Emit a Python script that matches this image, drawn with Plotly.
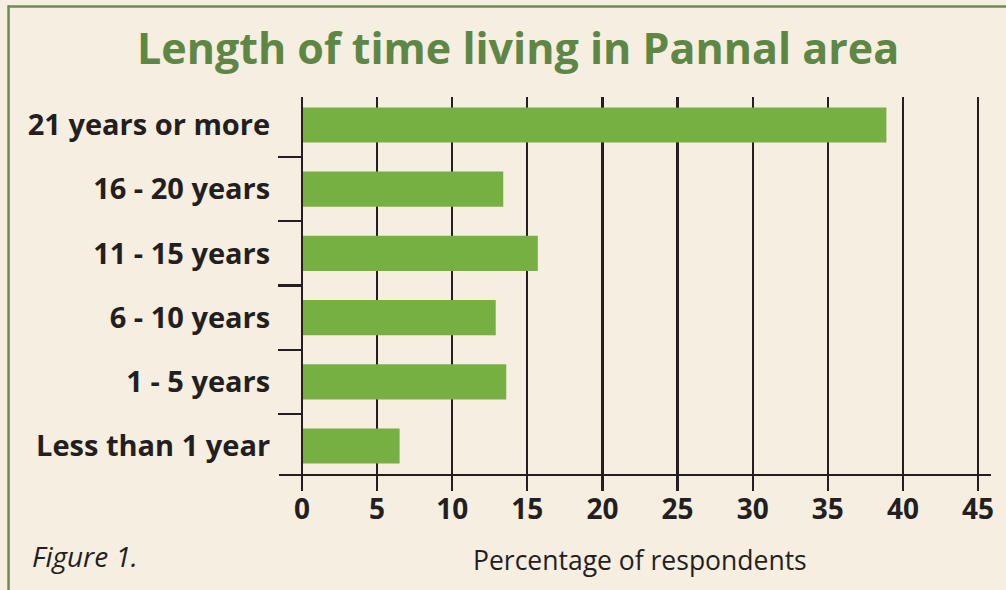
import plotly.graph_objects as go

categories = ["Less than 1 year", "1 - 5 years", "6 - 10 years",
              "11 - 15 years", "16 - 20 years", "21 years or more"]
values = [6.5, 13.6, 12.9, 15.7, 13.4, 38.9]
x_ticks = [0, 5, 10, 15, 20, 25, 30, 35, 40, 45]

W, H = 1006, 590
L, R, T, B = 279, 993, 97, 474  # plot area in pixels
BG = "#f6eee0"
BAR = "#76b043"
GREEN = "#5e8645"
DARK = "#231f20"
FONT = "Open Sans"

x0_px, x45_px = 302, 980
upp = 45 / (x45_px - x0_px)
x_range = [(L - x0_px) * upp, (R - x0_px) * upp]

def px_x(px):
    return (px - L) / (R - L)

def px_y(py):
    return (B - py) / (B - T)

fig = go.Figure(go.Bar(
    y=categories, x=values, orientation="h",
    marker=dict(color=BAR, line=dict(width=0)),
))

fig.update_layout(
    width=W, height=H,
    margin=dict(l=L, r=W - R, t=T, b=H - B),
    paper_bgcolor=BG, plot_bgcolor=BG,
    bargap=0.455,
    showlegend=False,
    font=dict(family=FONT, color=DARK),
)

fig.update_xaxes(
    range=x_range, tickvals=x_ticks, ticktext=[str(v) for v in x_ticks],
    showgrid=True, gridcolor=DARK, gridwidth=2.3,
    zeroline=False,
    showline=True, linecolor=DARK, linewidth=2.3,
    ticks="outside", ticklen=15, tickwidth=2.3, tickcolor=DARK,
    ticklabelstandoff=-6,
    tickfont=dict(family=FONT, size=28, color=DARK, weight="bold"),
    fixedrange=True,
)

fig.update_yaxes(
    type="category", categoryorder="array", categoryarray=categories,
    range=[-0.434, 5.434],
    anchor="free", position=px_x(x0_px),
    showgrid=False, zeroline=False,
    showline=True, linecolor=DARK, linewidth=2.3,
    ticks="outside", tickson="boundaries", ticklen=23, tickwidth=2.3, tickcolor=DARK,
    ticklabelstandoff=25,
    tickfont=dict(family=FONT, size=29, color=DARK, weight="bold"),
    fixedrange=True,
)

# title
fig.add_annotation(
    text="Length of time living in Pannal area",
    xref="paper", yref="paper", x=px_x(519), y=px_y(48),
    xanchor="center", yanchor="middle", showarrow=False,
    font=dict(family=FONT, size=43, color=GREEN, weight="bold"),
)
# axis title
fig.add_annotation(
    text="Percentage of respondents",
    xref="paper", yref="paper", x=px_x(641), y=px_y(560),
    xanchor="center", yanchor="middle", showarrow=False,
    font=dict(family=FONT, size=26.5, color=DARK),
)
# figure caption
fig.add_annotation(
    text="<i>Figure 1.</i>",
    xref="paper", yref="paper", x=px_x(29), y=px_y(556),
    xanchor="left", yanchor="middle", showarrow=False,
    font=dict(family=FONT, size=28, color=DARK),
)
# green frame (top and left)
fig.add_shape(type="line", xref="paper", yref="paper",
              x0=px_x(7), x1=px_x(1010), y0=px_y(6.5), y1=px_y(6.5),
              line=dict(color="#6a8c52", width=2.5), layer="above")
fig.add_shape(type="line", xref="paper", yref="paper",
              x0=px_x(7.8), x1=px_x(7.8), y0=px_y(5.5), y1=px_y(600),
              line=dict(color="#6a8c52", width=2.5), layer="above")

fig.write_html("out.html",
               config={"displayModeBar": False, "staticPlot": True},
               post_script="document.body.style.margin='0';document.body.style.background='" + BG + "';")
